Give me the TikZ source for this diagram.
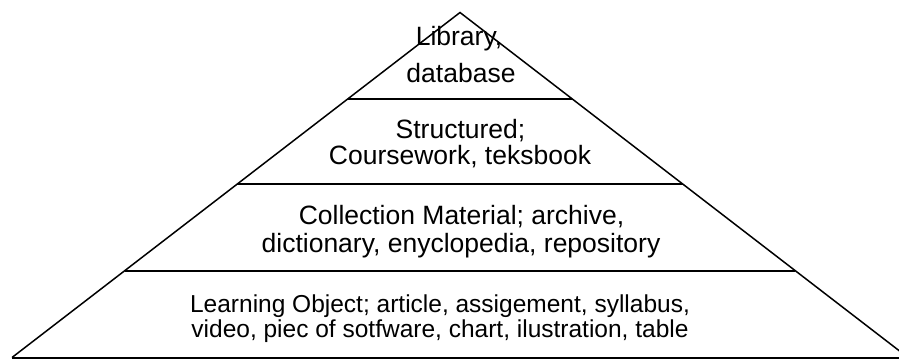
\documentclass[tikz,border=0pt]{standalone}
\usepackage{fontspec}
\setmainfont{Liberation Sans}
\begin{document}
\begin{tikzpicture}[x=1bp,y=-1bp,
  edge/.style={line width=1.5bp,black},
  tier/.style={line width=2bp,black},
  lbl/.style={anchor=base,inner sep=0pt,font=\fontsize{26.5bp}{28bp}\selectfont},
  lblsmall/.style={anchor=base,inner sep=0pt,font=\fontsize{24.5bp}{26bp}\selectfont}]
\useasboundingbox (0,0) rectangle (899,359);
\begin{scope}
\clip (0,0) rectangle (899,359);
\coordinate (apex) at (460,12.5);
\coordinate (bl) at (12,357.5);
\coordinate (br) at (908,357.5);
\draw[edge,line join=miter] (bl) -- (apex) -- (br);
\draw[tier] (bl) -- (899,357.5);
\draw[tier] (348.3,98.5) -- (571.7,98.5);
\draw[tier] (237.3,184) -- (682.7,184);
\draw[tier] (125,270.5) -- (795,270.5);
\end{scope}
\node[lbl] (lib1) at (459,45.5) {Library,};
\node[lbl] (lib2) at (461,82.5) {database};
\node[lbl] (st1) at (460.5,138.3) {Structured;};
\node[lbl] (st2) at (460,164.8) {Coursework, teksbook};
\node[lbl] (col1) at (461.5,224.3) {Collection Material; archive,};
\node[lbl] (col2) at (461,252.5) {dictionary, enyclopedia, repository};
\node[lblsmall] (lo1) at (440,312.7) {Learning Object; article, assigement, syllabus,};
\node[lblsmall] (lo2) at (440,337) {video, piec of sotfware, chart, ilustration, table};
\end{tikzpicture}
\end{document}
